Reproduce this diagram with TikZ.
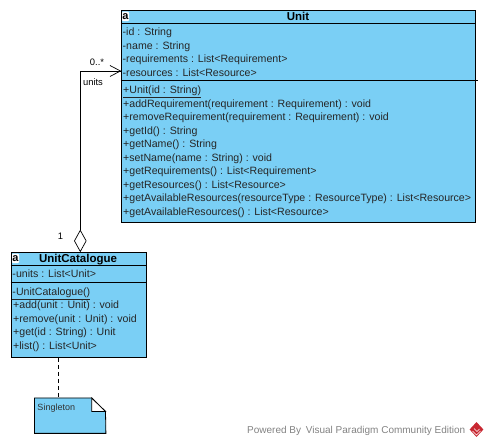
\documentclass[tikz,border=0pt]{standalone}
\usepackage{fontspec}
\setmainfont{Liberation Sans}
\usetikzlibrary{shapes.geometric,calc}
\definecolor{umlblue}{RGB}{122,207,245}
\definecolor{wm}{RGB}{130,130,130}
\definecolor{vpred}{RGB}{200,40,50}
\tikzset{
  umlbox/.style={draw=black,fill=umlblue,line width=1pt,minimum width=#1,inner sep=0pt,anchor=north west},
  mem/.style={anchor=west,inner sep=0pt,text height=8pt,text depth=0pt,font=\fontsize{10.6pt}{12pt}\selectfont,text=black!85},
  title/.style={anchor=center,inner sep=0pt,text height=8pt,text depth=0pt,font=\fontsize{11.5pt}{12pt}\selectfont\bfseries},
  mult/.style={inner sep=0pt,text height=6.5pt,text depth=0pt,font=\fontsize{9.4pt}{11pt}\selectfont},
  sepline/.style={line width=0.8pt},
  stereo/.style={fill=white,rounded corners=1pt,inner sep=0pt,anchor=center,text height=6pt,text depth=0pt,font=\fontsize{11pt}{11pt}\selectfont\bfseries,minimum width=7pt,minimum height=9.5pt},
}
\begin{document}
\begin{tikzpicture}[x=1pt,y=-1pt]
\useasboundingbox (0,0) rectangle (488,446);
% Unit
\node[umlbox=354.5pt,minimum height=211.5pt] (unit) at (120.5,10.5) {};
\draw[sepline] (unit.west|-0,23.5) -- (unit.east|-0,23.5);
\draw[sepline] (unit.west|-0,80) -- ($(unit.east|-0,80)+(1.5,0)$);
\node[stereo] (unita) at (125.5,16.3) {a};
\node[title] (unitname) at (298,17) {Unit};
\node[mem] (u1) at (122.5,32) {-id : String};
\node[mem] (u2) at (122.5,45.5) {-name : String};
\node[mem] (u3) at (122.5,59) {-requirements : List<Requirement>};
\node[mem] (u4) at (122.5,72.5) {-resources : List<Resource>};
\node[mem] (u5) at (123,90) {\underline{+Unit(id : String)}};
\node[mem] (u6) at (123,103.5) {+addRequirement(requirement : Requirement) : void};
\node[mem] (u7) at (123,117) {+removeRequirement(requirement : Requirement) : void};
\node[mem] (u8) at (123,130.5) {+getId() : String};
\node[mem] (u9) at (123,144) {+getName() : String};
\node[mem] (u10) at (123,157.5) {+setName(name : String) : void};
\node[mem] (u11) at (123,171) {+getRequirements() : List<Requirement>};
\node[mem] (u12) at (123,184.5) {+getResources() : List<Resource>};
\node[mem] (u13) at (123,198) {+getAvailableResources(resourceType : ResourceType) : List<Resource>};
\node[mem] (u14) at (123,211.5) {+getAvailableResources() : List<Resource>};
% UnitCatalogue
\node[umlbox=135.5pt,minimum height=104.5pt] (cat) at (10.5,252.5) {};
\draw[sepline] (cat.west|-0,265.5) -- (cat.east|-0,265.5);
\draw[sepline] (cat.west|-0,282) -- (cat.east|-0,282);
\node[stereo] (cata) at (15.5,258.3) {a};
\node[title] (catname) at (78,259) {UnitCatalogue};
\node[mem] (c1) at (12.3,274) {-units : List<Unit>};
\node[mem] (c2) at (12.3,291.5) {\underline{-UnitCatalogue()}};
\node[mem] (c3) at (13,305) {+add(unit : Unit) : void};
\node[mem] (c4) at (13,318.5) {+remove(unit : Unit) : void};
\node[mem] (c5) at (13,332) {+get(id : String) : Unit};
\node[mem] (c6) at (13,345.5) {+list() : List<Unit>};
% Note
\node[minimum width=71pt,minimum height=35pt,inner sep=0pt,anchor=north west] (note) at (34.5,398) {};
\coordinate (fa) at (91.7,398);
\coordinate (fb) at (105.5,411.5);
\coordinate (fc) at (91.7,411.5);
\draw[line width=0.8pt,fill=umlblue] (note.north west) -- (fa) -- (fb) -- (note.south east) -- (note.south west) -- cycle;
\draw[line width=0.8pt,fill=white] (fa) -- (fb) -- (fc) -- cycle;
\node[anchor=west,inner sep=0pt,text height=6pt,text depth=0pt,font=\fontsize{9pt}{10pt}\selectfont,text=black!80] (notetext) at (37.3,408) {Singleton};
\coordinate (notetop) at (58.5,398);
\coordinate (catbot) at (58.5,358);
\draw[dash pattern=on 4pt off 3pt,line width=0.7pt] (catbot) -- (notetop);
% Association
\node[diamond,draw=black,fill=white,line width=0.7pt,minimum width=12pt,minimum height=21.5pt,inner sep=0pt,aspect=0.55,anchor=south] (dia) at (80.3,252) {};
\coordinate (bend) at (80.3,71);
\coordinate (arr) at (120.5,71);
\coordinate (barbA) at (110,65.5);
\coordinate (barbB) at (110,76.5);
\draw[line width=0.7pt] (dia.north) -- (bend) -- (arr);
\draw[line width=0.7pt] (barbA) -- (arr) -- (barbB);
\node[mult,anchor=center] (m1) at (97,62.5) {0..*};
\node[mult,anchor=center] (rn) at (93,82.7) {units};
\node[mult,anchor=center] (m2) at (60.5,236) {1};
% Watermark
\node[anchor=west,inner sep=0pt,text=wm,text height=7pt,text depth=0pt,font=\fontsize{10pt}{11pt}\selectfont] (wmt) at (247,430) {Powered By\hspace{2pt} Visual Paradigm Community Edition};
\node[diamond,fill=vpred,minimum width=14pt,minimum height=15pt,inner sep=0pt] (logo) at (476.5,429.5) {};
\draw[white,line width=0.5pt] (472.5,431) -- (476.5,435) -- (480.5,431);
\draw[white,line width=0.5pt] (474,428.5) -- (477,431.5) -- (479.5,429);
\end{tikzpicture}
\end{document}
